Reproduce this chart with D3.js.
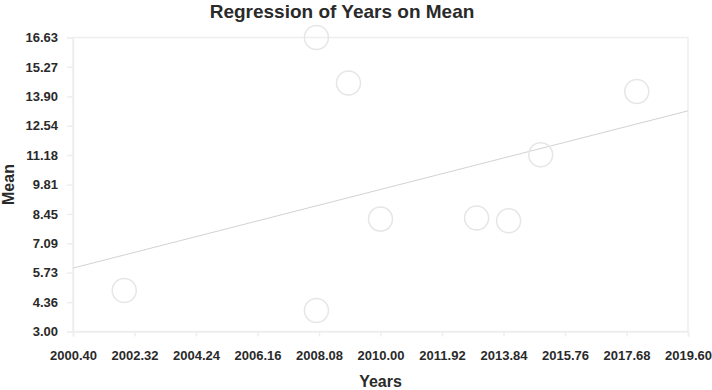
<!DOCTYPE html>
<html>
<head>
<meta charset="utf-8">
<script src="https://cdn.jsdelivr.net/npm/d3@7"></script>
<style>
  body { margin: 0; background: #fff; }
  text { font-family: "Liberation Sans", Arial, sans-serif; fill: #2a2a2a; }
</style>
</head>
<body>
<div id="chart"></div>
<script>
const years = [2002, 2008, 2008, 2009, 2010, 2013, 2014, 2015, 2018];
const means = [4.90, 16.63, 3.97, 14.52, 8.21, 8.26, 8.13, 11.19, 14.13];

// fitted regression line (end points at the axis limits)
const fitYears = [2000.40, 2019.60];
const fitMeans = [5.94, 13.23];

// axis ticks
const xTicks = [2000.40, 2002.32, 2004.24, 2006.16, 2008.08, 2010.00, 2011.92, 2013.84, 2015.76, 2017.68, 2019.60];
const yTicks = [3.00, 4.36, 5.73, 7.09, 8.45, 9.81, 11.18, 12.54, 13.90, 15.27, 16.63];

const width = 712, height = 390;
const margin = {top: 37.5, right: 24, bottom: 58.5, left: 73};
const w = width - margin.left - margin.right;
const h = height - margin.top - margin.bottom;

const svg = d3.select('#chart').append('svg')
    .attr('width', width)
    .attr('height', height);

const x = d3.scaleLinear().domain([2000.40, 2019.60]).range([0, w]);
const y = d3.scaleLinear().domain([3.00, 16.63]).range([h, 0]);

const g = svg.append('g')
    .attr('transform', `translate(${margin.left},${margin.top})`);

// plot frame
g.append('rect')
    .attr('width', w)
    .attr('height', h)
    .attr('fill', 'none')
    .attr('stroke', '#eeeeee')
    .attr('stroke-width', 1.5);

// axes
const xAxis = g.append('g')
    .attr('transform', `translate(0,${h})`)
    .call(d3.axisBottom(x).tickValues(xTicks).tickFormat(d3.format('.2f')).tickSize(5).tickPadding(14));
const yAxis = g.append('g')
    .call(d3.axisLeft(y).tickValues(yTicks).tickFormat(d3.format('.2f')).tickSize(6).tickPadding(9));

[xAxis, yAxis].forEach(a => {
  a.select('.domain').attr('stroke', '#eeeeee').attr('stroke-width', 1.5);
  a.selectAll('.tick line').attr('stroke', '#eeeeee').attr('stroke-width', 1.5);
  a.selectAll('.tick text')
      .attr('fill', '#2a2a2a')
      .style('font-family', '"Liberation Sans", Arial, sans-serif')
      .style('font-size', '13px')
      .style('font-weight', 'bold');
});

// regression line
const line = d3.line()
    .x((d, i) => x(fitYears[i]))
    .y(d => y(d));
g.append('path')
    .datum(fitMeans)
    .attr('d', line)
    .attr('fill', 'none')
    .attr('stroke', '#d2d2d2')
    .attr('stroke-width', 1);

// points
g.append('g')
    .selectAll('circle')
    .data(years)
    .join('circle')
    .attr('cx', d => x(d))
    .attr('cy', (d, i) => y(means[i]))
    .attr('r', 12)
    .attr('fill', 'none')
    .attr('stroke', '#e6e6e6')
    .attr('stroke-width', 1.5);

// titles
svg.append('text')
    .attr('x', 342)
    .attr('y', 18)
    .attr('text-anchor', 'middle')
    .style('font-size', '19px')
    .style('font-weight', 'bold')
    .text('Regression of Years on Mean');

svg.append('text')
    .attr('x', margin.left + w / 2)
    .attr('y', 387)
    .attr('text-anchor', 'middle')
    .style('font-size', '16px')
    .style('font-weight', 'bold')
    .text('Years');

svg.append('text')
    .attr('transform', `translate(14,${margin.top + h / 2}) rotate(-90)`)
    .attr('text-anchor', 'middle')
    .style('font-size', '16px')
    .style('font-weight', 'bold')
    .text('Mean');
</script>
</body>
</html>
